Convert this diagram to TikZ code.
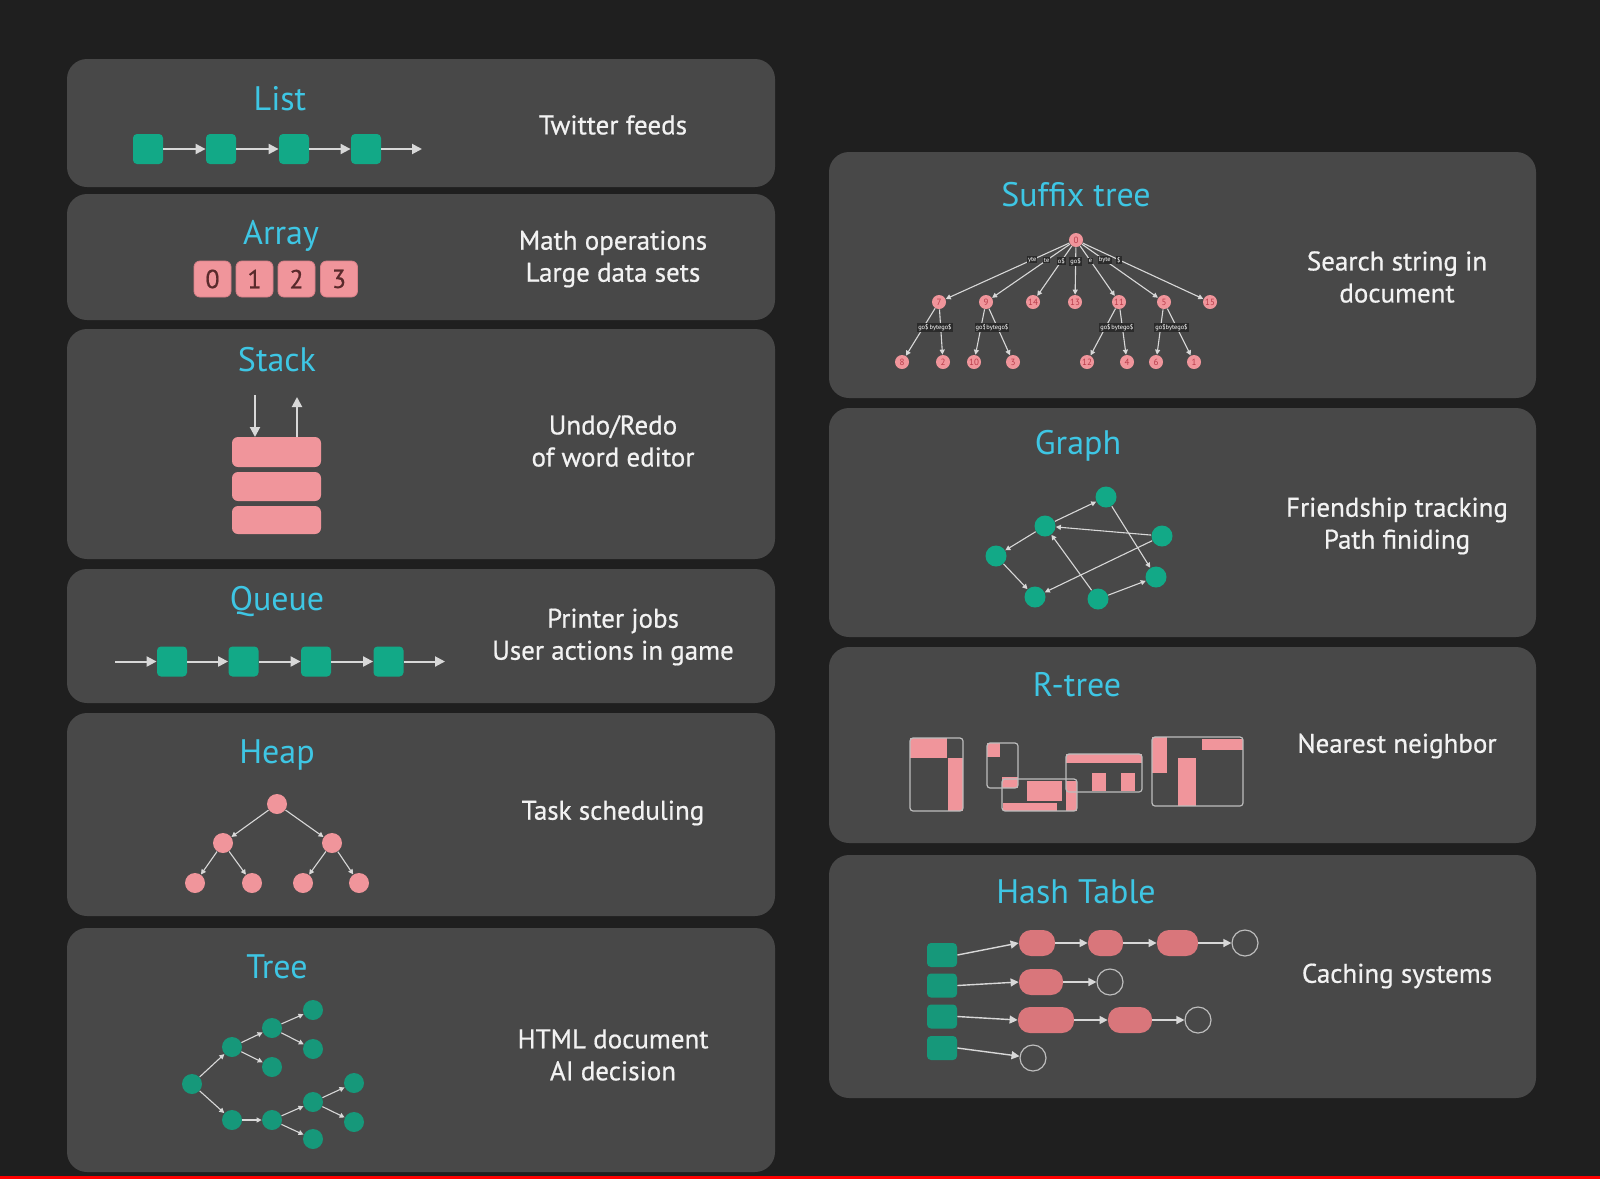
\documentclass[tikz,border=0pt]{standalone}
\usepackage{fontspec}
\setmainfont{PT Sans}
\newfontfamily\bodyfont[FakeBold=0.6]{PT Sans}
\usetikzlibrary{arrows.meta}
\definecolor{bg}{HTML}{1F1F1F}
\definecolor{panel}{HTML}{484848}
\definecolor{ttl}{HTML}{3EC6E4}
\definecolor{teal}{HTML}{12A987}
\definecolor{dteal}{HTML}{16987A}
\definecolor{pinkc}{HTML}{F0959B}
\definecolor{pinkd}{HTML}{D98088}
\definecolor{pill}{HTML}{D9767B}
\definecolor{txt}{HTML}{F2F2F2}
\definecolor{lnc}{HTML}{D8D8D8}
\definecolor{digit}{HTML}{5A2A2C}
\definecolor{snum}{HTML}{B83C4A}
\definecolor{rtl}{HTML}{BDBDBD}
\tikzset{
  panelbox/.style={fill=panel, rounded corners=10pt},
  ttlt/.style={text=ttl, font=\fontsize{17}{20}\selectfont, inner sep=0pt},
  bodyt/.style={text=txt, font=\bodyfont\fontsize{13.5}{16}\selectfont, align=center, inner sep=0pt},
  link/.style={draw=lnc, line width=1pt, -{Triangle[length=5pt,width=5pt]}},
  thin/.style={draw=lnc, line width=0.55pt, -{Triangle[length=2.5pt,width=2.5pt]}},
  lsq/.style={fill=teal, minimum width=15pt, minimum height=15pt, rounded corners=2pt, inner sep=0pt},
  abox/.style={fill=pinkc, draw=pinkd, line width=0.4pt, minimum width=18.5pt, minimum height=18pt, rounded corners=3pt, inner sep=0pt, text=digit, font=\bodyfont\fontsize{13}{13}\selectfont},
  sbar/.style={fill=pinkc, rounded corners=3pt},
  hnode/.style={circle, fill=pinkc, minimum size=10pt, inner sep=0pt},
  tnode/.style={circle, fill=dteal, minimum size=10pt, inner sep=0pt},
  gnode/.style={circle, fill=teal, minimum size=10.5pt, inner sep=0pt},
  snode/.style={circle, fill=pinkc, minimum size=7pt, inner sep=0pt, text=snum, font=\fontsize{4.5}{4.5}\selectfont},
  elab/.style={fill=bg!70!panel, text=white, inner sep=0.5pt, font=\fontsize{3.2}{3.2}\selectfont},
  bucket/.style={fill=dteal, minimum width=15pt, minimum height=12pt, rounded corners=2pt, inner sep=0pt},
  pillbox/.style={fill=pill, minimum height=13pt, rounded corners=6pt, inner sep=0pt},
  nullc/.style={circle, draw=rtl, line width=0.6pt, minimum size=13pt, inner sep=0pt},
  rout/.style={draw=rtl, line width=0.6pt, rounded corners=1.5pt},
  hlink/.style={draw=lnc, line width=0.7pt, -{Triangle[length=4pt,width=4pt]}},
}
\begin{document}
\begin{tikzpicture}[x=0.5pt, y=-0.5pt]
\useasboundingbox (0,0) rectangle (1600,1179);
\fill[bg] (0,0) rectangle (1600,1179);
\fill[red] (0,1176) rectangle (1600,1179);
% panels
\fill[panelbox] (67,59) rectangle (775,187);
\fill[panelbox] (67,194) rectangle (775,320);
\fill[panelbox] (67,329) rectangle (775,559);
\fill[panelbox] (67,569) rectangle (775,703);
\fill[panelbox] (67,713) rectangle (775,916);
\fill[panelbox] (67,928) rectangle (775,1172);
\fill[panelbox] (829,152) rectangle (1536,398);
\fill[panelbox] (829,408) rectangle (1536,637);
\fill[panelbox] (829,647) rectangle (1536,843);
\fill[panelbox] (829,855) rectangle (1536,1098);

% ---- List
\node[ttlt] (tList) at (280,99) {List};
\node[bodyt] (uList) at (613,125) {Twitter feeds};
\foreach \i/\x in {1/148,2/221,3/294,4/366} \node[lsq] (L\i) at (\x,149) {};
\coordinate (Lend) at (422,149);
\draw[link] (L1) -- (L2);
\draw[link] (L2) -- (L3);
\draw[link] (L3) -- (L4);
\draw[link] (L4) -- (Lend);

% ---- Array
\node[ttlt] (tArray) at (281,236) {Array};
\node[bodyt] (uArray) at (613,259) {Math operations\\Large data sets};
\foreach \i/\x in {0/212.5,1/254.5,2/296.5,3/339} \node[abox] (A\i) at (\x,279) {\i};

% ---- Stack
\node[ttlt] (tStack) at (277,360) {Stack};
\node[bodyt] (uStack) at (613,441) {Undo/Redo\\of word editor};
\fill[sbar] (232,437) rectangle (321,467);
\fill[sbar] (232,472) rectangle (321,501);
\fill[sbar] (232,506) rectangle (321,534);
\coordinate (Sin0) at (255,395);
\coordinate (Sin1) at (255,437);
\coordinate (Sout0) at (297,437);
\coordinate (Sout1) at (297,397);
\draw[link] (Sin0) -- (Sin1);
\draw[link] (Sout0) -- (Sout1);

% ---- Queue
\node[ttlt] (tQueue) at (277,601) {Queue};
\node[bodyt] (uQueue) at (613,637) {Printer jobs\\User actions in game};
\coordinate (Qs) at (115,661.5);
\foreach \i/\x in {1/172,2/243.5,3/316,4/388.5} \node[lsq] (Q\i) at (\x,661.5) {};
\coordinate (Qe) at (445,661.5);
\draw[link] (Qs) -- (Q1);
\draw[link] (Q1) -- (Q2);
\draw[link] (Q2) -- (Q3);
\draw[link] (Q3) -- (Q4);
\draw[link] (Q4) -- (Qe);

% ---- Heap
\node[ttlt] (tHeap) at (277,755) {Heap};
\node[bodyt] (uHeap) at (613,813) {Task scheduling};
\node[hnode] (h0) at (277,804) {};
\node[hnode] (h1) at (223,843) {};
\node[hnode] (h2) at (332,843) {};
\node[hnode] (h3) at (195,883) {};
\node[hnode] (h4) at (252,883) {};
\node[hnode] (h5) at (303,883) {};
\node[hnode] (h6) at (359,883) {};
\foreach \a/\b in {h0/h1,h0/h2,h1/h3,h1/h4,h2/h5,h2/h6} \draw[thin] (\a) -- (\b);

% ---- Tree
\node[ttlt] (tTree) at (277,967) {Tree};
\node[bodyt] (uTree) at (613,1055) {HTML document\\AI decision};
\node[tnode] (r) at (192,1084) {};
\node[tnode] (a) at (232,1047) {};
\node[tnode] (a1) at (272,1028) {};
\node[tnode] (a1a) at (313,1010) {};
\node[tnode] (a1b) at (313,1049) {};
\node[tnode] (a2) at (272,1067) {};
\node[tnode] (b) at (232,1120) {};
\node[tnode] (b1) at (272,1120) {};
\node[tnode] (b1a) at (313,1102) {};
\node[tnode] (b1a1) at (354,1083) {};
\node[tnode] (b1a2) at (354,1122) {};
\node[tnode] (b1b) at (313,1139) {};
\foreach \p/\q in {r/a,r/b,a/a1,a/a2,a1/a1a,a1/a1b,b/b1,b1/b1a,b1/b1b,b1a/b1a1,b1a/b1a2} \draw[thin] (\p) -- (\q);

% ---- Suffix tree
\node[ttlt] (tSuffix) at (1076,195) {Suffix tree};
\node[bodyt] (uSuffix) at (1397,277) {Search string in\\document};
\node[snode] (s0) at (1076,240) {0};
\node[snode] (s7) at (939,302) {7};
\node[snode] (s9) at (986,302) {9};
\node[snode] (s14) at (1033,302) {14};
\node[snode] (s13) at (1075,302) {13};
\node[snode] (s11) at (1119,302) {11};
\node[snode] (s5) at (1164,302) {5};
\node[snode] (s15) at (1210,302) {15};
\node[snode] (s8) at (902,362) {8};
\node[snode] (s2) at (943,362) {2};
\node[snode] (s10) at (974,362) {10};
\node[snode] (s3) at (1013,362) {3};
\node[snode] (s12) at (1087,362) {12};
\node[snode] (s4) at (1127,362) {4};
\node[snode] (s6) at (1156,362) {6};
\node[snode] (s1) at (1194,362) {1};
\draw[thin] (s0) -- node[elab, pos=0.3] {yte} (s7);
\draw[thin] (s0) -- node[elab, pos=0.3] {te} (s9);
\draw[thin] (s0) -- node[elab, pos=0.3] {o\$} (s14);
\draw[thin] (s0) -- node[elab, pos=0.3] {go\$} (s13);
\draw[thin] (s0) -- node[elab, pos=0.3] {e} (s11);
\draw[thin] (s0) -- node[elab, pos=0.3] {byte} (s5);
\draw[thin] (s0) -- node[elab, pos=0.3] {\$} (s15);
\foreach \p/\l/\rr in {s7/s8/s2, s9/s10/s3, s11/s12/s4, s5/s6/s1} {
  \draw[thin] (\p) -- node[elab, pos=0.4] {go\$} (\l);
  \draw[thin] (\p) -- node[elab, pos=0.4] {bytego\$} (\rr);
}

% ---- Graph
\node[ttlt] (tGraph) at (1078,446) {Graph};
\node[bodyt] (uGraph) at (1397,526) {Friendship tracking\\Path finiding};
\node[gnode] (gA) at (1106,497) {};
\node[gnode] (gB) at (1045,526) {};
\node[gnode] (gC) at (1162,536) {};
\node[gnode] (gD) at (996,556) {};
\node[gnode] (gE) at (1156,577) {};
\node[gnode] (gF) at (1035,597) {};
\node[gnode] (gG) at (1098,599) {};
\foreach \p/\q in {gB/gA,gB/gD,gD/gF,gC/gB,gC/gF,gA/gE,gG/gB,gG/gE} \draw[thin] (\p) -- (\q);

% ---- R-tree
\node[ttlt] (tRtree) at (1077,685) {R-tree};
\node[bodyt] (uRtree) at (1397,746) {Nearest neighbor};
\fill[pinkc] (910,738) rectangle (947,758);
\fill[pinkc] (948,758) rectangle (963,811);
\draw[rout] (910,738) rectangle (963,811);
\fill[pinkc] (987,743) rectangle (1000,757);
\fill[pinkc] (1002,777) rectangle (1018,788);
\fill[pinkc] (1027,781) rectangle (1062,801);
\fill[pinkc] (1003,803) rectangle (1057,811);
\fill[pinkc] (1066,781) rectangle (1077,811);
\draw[rout] (987,743) rectangle (1018,788);
\draw[rout] (1002,779) rectangle (1077,811);
\fill[pinkc] (1066,754) rectangle (1142,763);
\fill[pinkc] (1092,773) rectangle (1106,791);
\fill[pinkc] (1121,773) rectangle (1135,791);
\draw[rout] (1066,754) rectangle (1142,792);
\fill[pinkc] (1152,737) rectangle (1167,773);
\fill[pinkc] (1178,758) rectangle (1196,806);
\fill[pinkc] (1202,739) rectangle (1243,750);
\draw[rout] (1152,737) rectangle (1243,806);

% ---- Hash table
\node[ttlt] (tHash) at (1076,892) {Hash Table};
\node[bodyt] (uHash) at (1397,976) {Caching systems};
\node[bucket] (k1) at (942,955) {};
\node[bucket] (k2) at (942,985.5) {};
\node[bucket] (k3) at (942,1016.5) {};
\node[bucket] (k4) at (942,1048) {};
\node[pillbox, minimum width=18pt] (p11) at (1037,943) {};
\node[pillbox, minimum width=17.5pt] (p12) at (1105.5,943) {};
\node[pillbox, minimum width=20.5pt] (p13) at (1177.5,943) {};
\node[nullc] (n1) at (1245,943) {};
\node[pillbox, minimum width=22pt] (p21) at (1041,982) {};
\node[nullc] (n2) at (1110,982) {};
\node[pillbox, minimum width=28pt] (p31) at (1046,1020) {};
\node[pillbox, minimum width=22pt] (p32) at (1130,1020) {};
\node[nullc] (n3) at (1198,1020) {};
\node[nullc] (n4) at (1033,1058) {};
\draw[hlink] (k1.east) -- (p11.west);
\draw[hlink] (p11) -- (p12);
\draw[hlink] (p12) -- (p13);
\draw[hlink] (p13) -- (n1);
\draw[hlink] (k2.east) -- (p21.west);
\draw[hlink] (p21) -- (n2);
\draw[hlink] (k3.east) -- (p31.west);
\draw[hlink] (p31) -- (p32);
\draw[hlink] (p32) -- (n3);
\draw[hlink] (k4.east) -- (n4);
\end{tikzpicture}
\end{document}
